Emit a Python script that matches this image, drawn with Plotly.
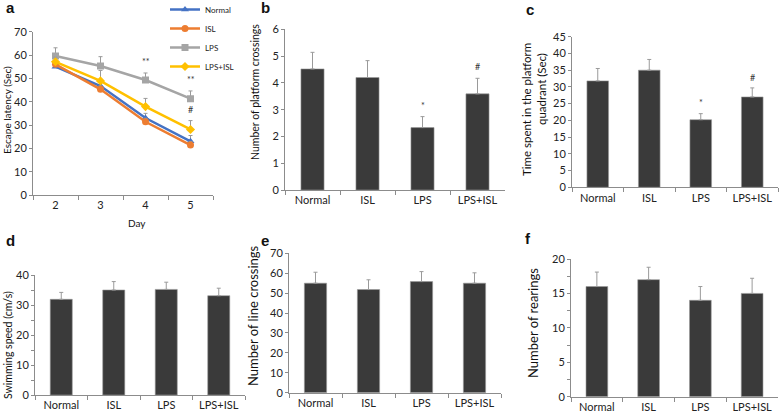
import plotly.graph_objects as go

# ---------------- data ----------------
days = ["2", "3", "4", "5"]
groups = ["Normal", "ISL", "LPS", "LPS+ISL"]

# panel a: escape latency (Sec)
lat_normal = [55.0, 46.7, 33.0, 23.0]
lat_isl = [56.0, 45.3, 31.4, 21.4]
lat_lps = [59.6, 55.3, 49.3, 41.3]
lat_lpsisl = [57.1, 48.9, 37.9, 28.1]
err_normal = [1.0, 2.0, 2.0, 2.5]
err_isl = [1.0, 1.5, 1.5, 1.5]
err_lps = [3.5, 4.0, 3.0, 3.3]
err_lpsisl = [2.0, 4.5, 3.5, 3.8]
sig_a_lps = ["", "", "**", "**"]
sig_a_lpsisl = ["", "", "", "#"]

# panel b: number of platform crossings
cross_vals = [4.52, 4.20, 2.33, 3.59]
cross_err = [0.62, 0.63, 0.41, 0.58]
sig_b = ["", "", "*", "#"]

# panel c: time in platform quadrant (Sec)
quad_vals = [31.8, 35.0, 20.2, 27.0]
quad_err = [3.7, 3.2, 1.8, 2.7]
sig_c = ["", "", "*", "#"]

# panel d: swimming speed (cm/s)
speed_vals = [31.9, 35.0, 35.2, 33.1]
speed_err = [2.3, 2.8, 2.4, 2.5]

# panel e: number of line crossings
line_vals = [55.0, 51.8, 55.8, 55.0]
line_err = [5.5, 4.9, 5.0, 5.2]

# panel f: number of rearings
rear_vals = [16.0, 17.0, 14.0, 15.0]
rear_err = [2.1, 1.8, 2.0, 2.2]

# ---------------- layout helpers ----------------
W, H = 784, 417
FONT = "Lato"
AXC = "#8c8c8c"
BAR = "#3a3a3a"
ERRC = "#9a9a9a"


def xd(a, b):
    return [a / W, b / W]


def yd(top, bottom):
    return [1 - bottom / H, 1 - top / H]


fig = go.Figure()

# ---- panel a ----
series = [
    ("Normal", lat_normal, err_normal, "#4472C4", "triangle-up"),
    ("ISL", lat_isl, err_isl, "#ED7D31", "circle"),
    ("LPS", lat_lps, err_lps, "#A5A5A5", "square"),
    ("LPS+ISL", lat_lpsisl, err_lpsisl, "#FFC000", "diamond"),
]
for name, vals, errs, col, sym in series:
    fig.add_trace(go.Scatter(
        x=days, y=vals, name=name, mode="lines+markers",
        line=dict(color=col, width=2.5),
        marker=dict(color=col, symbol=sym, size=7),
        error_y=dict(type="data", array=errs, arrayminus=[0] * len(errs),
                     symmetric=False, color=ERRC, thickness=1, width=2),
        xaxis="x", yaxis="y", showlegend=True,
    ))

# ---- bar panels ----
bar_panels = [
    ("x2", "y2", cross_vals, cross_err),
    ("x3", "y3", quad_vals, quad_err),
    ("x4", "y4", speed_vals, speed_err),
    ("x5", "y5", line_vals, line_err),
    ("x6", "y6", rear_vals, rear_err),
]
for xa, ya, vals, errs in bar_panels:
    fig.add_trace(go.Bar(
        x=groups, y=vals, xaxis=xa, yaxis=ya, showlegend=False,
        width=0.42,
        marker=dict(color=BAR, line=dict(color="#9a9a9a", width=0.6)),
        error_y=dict(type="data", array=errs, arrayminus=[0] * len(errs),
                     symmetric=False, color=ERRC, thickness=1, width=2),
    ))

tickfont = dict(family=FONT, size=11, color="#222")


def xaxis(dom, anchor):
    return dict(domain=dom, anchor=anchor, type="category", range=[-0.5, 3.5],
                showline=True, linecolor=AXC, linewidth=1, ticks="outside",
                tickcolor=AXC, ticklen=4, tickson="boundaries", showgrid=False,
                zeroline=False, tickfont=tickfont, fixedrange=True, automargin=False)


def yaxis(dom, anchor, rng, dtick, minor=None):
    d = dict(domain=dom, anchor=anchor, range=rng, dtick=dtick, tick0=0,
             showline=True, linecolor=AXC, linewidth=1, ticks="outside",
             tickcolor=AXC, ticklen=3, showgrid=False, zeroline=False,
             tickfont=tickfont, fixedrange=True, automargin=False)
    if minor is not None:
        d["minor"] = dict(dtick=minor, ticks="outside", ticklen=3, tickcolor=AXC, showgrid=False)
    return d


layout = dict(
    width=W, height=H, margin=dict(l=0, r=0, t=0, b=0, autoexpand=False),
    paper_bgcolor="white", plot_bgcolor="white",
    font=dict(family=FONT, color="#222"),
    bargap=0.58,
    legend=dict(x=165 / W, y=1 + 5 / H, xanchor="left", yanchor="top",
                font=dict(family=FONT, size=8, color="#222"),
                bgcolor="rgba(0,0,0,0)", itemwidth=30, tracegroupgap=0),
    xaxis=xaxis(xd(33, 213), "y"),
    yaxis=yaxis(yd(31.7, 195), "x", [0, 70], 10),
    xaxis2=xaxis(xd(285, 505), "y2"),
    yaxis2=yaxis(yd(29.3, 190), "x2", [0, 6], 1),
    xaxis3=xaxis(xd(572, 778), "y3"),
    yaxis3=yaxis(yd(36.7, 187.3), "x3", [0, 45], 5),
    xaxis4=xaxis(xd(35, 245), "y4"),
    yaxis4=yaxis(yd(275, 395), "x4", [0, 40], 10, minor=5),
    xaxis5=xaxis(xd(289, 501), "y5"),
    yaxis5=yaxis(yd(253.3, 392.7), "x5", [0, 70], 10),
    xaxis6=xaxis(xd(571, 778), "y6"),
    yaxis6=yaxis(yd(259, 396.7), "x6", [0, 20], 5, minor=2.5),
)
fig.update_layout(**layout)

ann = []


def paper_text(text, x, y, size, angle=0, bold=False, family=FONT):
    ann.append(dict(text=f"<b>{text}</b>" if bold else text, x=x / W, y=1 - y / H,
                    xref="paper", yref="paper", showarrow=False, textangle=angle,
                    font=dict(family=family, size=size, color="#111"),
                    xanchor="center", yanchor="middle"))


# panel letters
paper_text("a", 10, 8, 15, bold=True, family="Arial")
paper_text("b", 265, 8, 15, bold=True, family="Arial")
paper_text("c", 530, 10, 15, bold=True, family="Arial")
paper_text("d", 10, 240, 15, bold=True, family="Arial")
paper_text("e", 265, 240, 15, bold=True, family="Arial")
paper_text("f", 528, 238, 15, bold=True, family="Arial")

# axis titles
paper_text("Escape latency (Sec)", 7, 110, 10, angle=-90)
paper_text("Day", 137, 223, 10)
paper_text("Number of platform crossings", 255, 92, 10.5, angle=-90)
paper_text("Time spent in the platform", 526, 110, 11.5, angle=-90)
paper_text("quadrant (Sec)", 541, 89, 11.5, angle=-90)
paper_text("Swimming speed (cm/s)", 8, 345, 10.5, angle=-90)
paper_text("Number of line crossings", 253, 316, 13, angle=-90)
paper_text("Number of rearings", 533, 323, 13, angle=-90)


def sig_marks(xa, ya, vals, errs, marks, pad):
    # category axes take serial index positions for annotations
    for i, (v, e, m) in enumerate(zip(vals, errs, marks)):
        if m:
            ann.append(dict(text=m, x=i, y=v + e + pad, xref=xa, yref=ya,
                            showarrow=False, yanchor="bottom",
                            font=dict(family=FONT, size=9, color="#333")))


sig_marks("x", "y", lat_lps, err_lps, sig_a_lps, 1.5)
sig_marks("x", "y", lat_lpsisl, err_lpsisl, sig_a_lpsisl, 1.5)
sig_marks("x2", "y2", cross_vals, cross_err, sig_b, 0.15)
sig_marks("x3", "y3", quad_vals, quad_err, sig_c, 1.0)

fig.update_layout(annotations=ann)
fig.write_html(
    "out.html",
    config={"displayModeBar": False},
    post_script="document.body.style.margin='0px';document.body.style.overflow='hidden';",
)
